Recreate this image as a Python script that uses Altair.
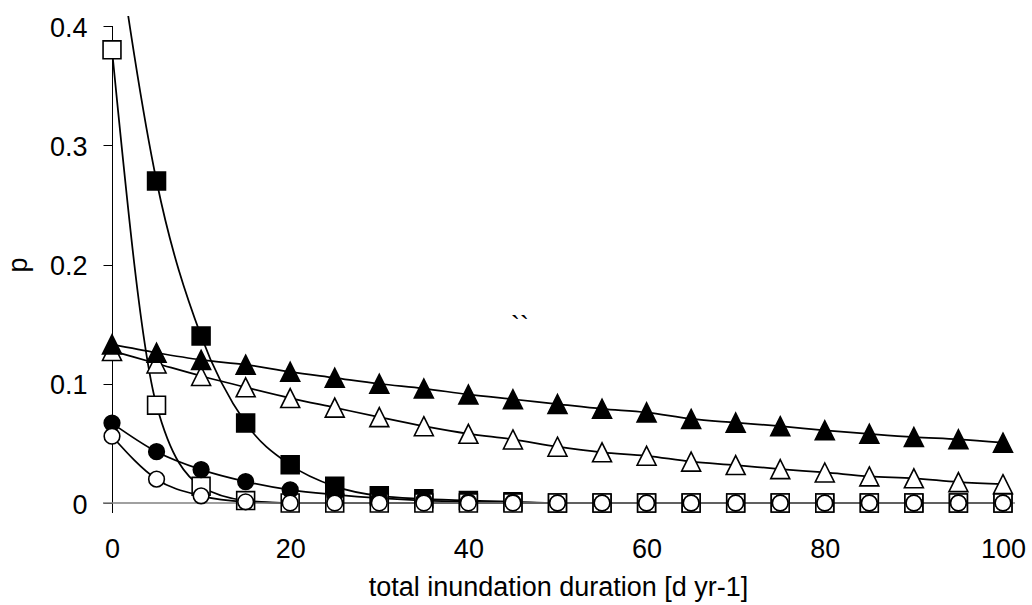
import altair as alt
import pandas as pd

# ---- data ----
x_days = [0, 5, 10, 15, 20, 25, 30, 35, 40, 45, 50, 55, 60, 65, 70, 75, 80, 85, 90, 95, 100]

p_filled_triangle = [0.133, 0.126, 0.120, 0.116, 0.110, 0.105, 0.100, 0.096, 0.091, 0.087, 0.083,
                     0.079, 0.076, 0.0705, 0.0674, 0.0644, 0.061, 0.058, 0.0553, 0.0534, 0.0506]
p_open_triangle = [0.1275, 0.117, 0.1065, 0.097, 0.088, 0.080, 0.072, 0.0644, 0.058, 0.0533, 0.0472,
                   0.0425, 0.0396, 0.0347, 0.0318, 0.0284, 0.0256, 0.0223, 0.0207, 0.0175, 0.0158]
p_filled_square = [0.50, 0.270, 0.140, 0.067, 0.032, 0.014, 0.006, 0.0035, 0.002, 0.001, 0.0,
                   0.0, 0.0, 0.0, 0.0, 0.0, 0.0, 0.0, 0.0, 0.0, 0.0]
p_open_square = [0.380, 0.082, 0.014, 0.002, 0.0, 0.0, 0.0, 0.0, 0.0, 0.0, 0.0,
                 0.0, 0.0, 0.0, 0.0, 0.0, 0.0, 0.0, 0.0, 0.0, 0.0]
p_filled_circle = [0.067, 0.043, 0.028, 0.018, 0.011, 0.007, 0.004, 0.002, 0.001, 0.0005, 0.0,
                   0.0, 0.0, 0.0, 0.0, 0.0, 0.0, 0.0, 0.0, 0.0, 0.0]
p_open_circle = [0.056, 0.020, 0.006, 0.001, 0.0, 0.0, 0.0, 0.0, 0.0, 0.0, 0.0,
                 0.0, 0.0, 0.0, 0.0, 0.0, 0.0, 0.0, 0.0, 0.0, 0.0]

y_ticks = [0, 0.1, 0.2, 0.3, 0.4]
x_ticks = [0, 20, 40, 60, 80, 100]
x_title = "total inundation duration [d yr-1]"
y_title = "p"
stray_text = "``"

FONT = "Liberation Sans"
W, H = 903, 487

series = {
    "filled_triangle": p_filled_triangle,
    "open_triangle": p_open_triangle,
    "filled_square": p_filled_square,
    "open_square": p_open_square,
    "filled_circle": p_filled_circle,
    "open_circle": p_open_circle,
}
frames = {k: pd.DataFrame({"x": x_days, "p": v, "series": k}) for k, v in series.items()}

xs = alt.Scale(domain=[0, 101.35], nice=False, zero=False)
ys = alt.Scale(domain=[0, 0.40839], nice=False, zero=False)

x_axis = alt.Axis(values=x_ticks, domain=False, ticks=True, tickSize=0, grid=False,
                  labelFont=FONT, labelFontSize=27, labelColor="black", labelPadding=33,
                  labelFlush=False, labelOverlap=False,
                  titleFont=FONT, titleFontSize=27, titleFontWeight="normal", titleColor="black",
                  titleX=446, titleY=92, titleBaseline="alphabetic", titleAlign="center")
y_axis = alt.Axis(values=y_ticks, domain=False, ticks=True, tickSize=9, tickColor="black",
                  tickWidth=1, grid=False,
                  labelExpr="datum.value == 0 ? '0' : format(datum.value, '.1f')",
                  labelFont=FONT, labelFontSize=27, labelColor="black", labelPadding=16,
                  labelFlush=False, labelOverlap=False, labelOffset=2,
                  titleFont=FONT, titleFontSize=27, titleFontWeight="normal", titleColor="black",
                  titleX=-86, titleY=248.5, titleAngle=270, titleBaseline="alphabetic",
                  titleAlign="center")

X = alt.X("x:Q", scale=xs, axis=x_axis, title=x_title)
Y = alt.Y("p:Q", scale=ys, axis=y_axis, title=y_title)

layers = []

# y-axis vertical line (extends a little below zero)
yline = alt.Chart(pd.DataFrame({"x": [0], "p": [0.4]})).mark_rule(
    color="black", strokeWidth=1, xOffset=0.5).encode(x=X, y=Y, y2=alt.value(H + 10))
layers.append(yline)

# curves
for k, df in frames.items():
    clip = k == "filled_square"
    ln = alt.Chart(df).mark_line(interpolate="monotone", color="black", strokeWidth=1.75,
                                 clip=clip).encode(x=X, y=Y)
    layers.append(ln)

# gray x-axis line at p = 0
xline = alt.Chart(pd.DataFrame({"p": [0]})).mark_rule(color="#808080", strokeWidth=1.5).encode(
    y=Y, x=alt.value(-9), x2=alt.value(W))
layers.append(xline)

TRI = "M0,-1L1,1L-1,1Z"
marker_styles = [
    ("open_triangle", TRI, "white", 360),
    ("filled_triangle", TRI, "black", 360),
    ("filled_square", "square", "black", 320),
    ("open_square", "square", "white", 320),
    ("filled_circle", "circle", "black", 245),
    ("open_circle", "circle", "white", 245),
]
for k, shape, fill, size in marker_styles:
    df = frames[k][frames[k]["p"] <= 0.41]
    pts = alt.Chart(df).mark_point(shape=shape, filled=True, fill=fill, stroke="black",
                                   strokeWidth=1.6, size=size, opacity=1).encode(x=X, y=Y)
    layers.append(pts)

txt = alt.Chart(pd.DataFrame({"x": [45.8], "p": [0.141], "t": [stray_text]})).mark_text(
    font=FONT, fontSize=27, color="black", align="center", baseline="alphabetic").encode(
    x=X, y=Y, text="t:N")
layers.append(txt)

chart = alt.layer(*layers).properties(
    width=W, height=H,
    padding={"left": 112, "top": 16, "right": 17, "bottom": 102},
    autosize="none", background="white",
).configure_view(stroke=None)

chart.save("out.html", embed_options={"renderer": "svg", "actions": False})
